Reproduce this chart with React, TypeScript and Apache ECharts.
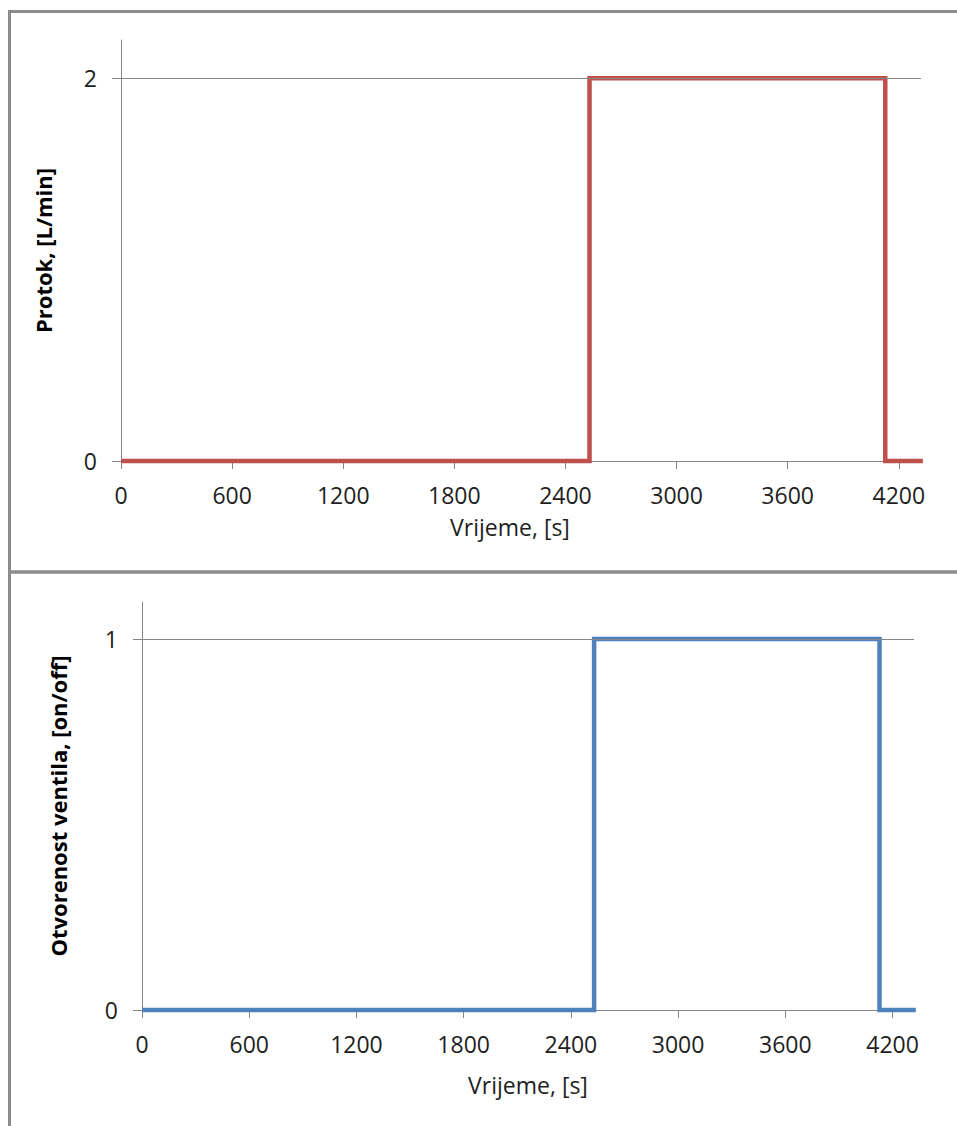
import React, { useEffect, useRef } from "react";
import * as echarts from "echarts";

// Data
const timeS = [0, 2530, 2530, 4127, 4127, 4330];
const protokLmin = [0, 0, 2, 2, 0, 0];
const ventilOnOff = [0, 0, 1, 1, 0, 0];
const xTicks = [0, 600, 1200, 1800, 2400, 3000, 3600, 4200];
const protokTicks = [0, 2];
const ventilTicks = [0, 1];

const FONT = "'Open Sans', 'DejaVu Sans', sans-serif";
const AXIS_GRAY = "#868686";
const TEXT = "#1e1e1e";

export default function App() {
  const ref = useRef<HTMLDivElement>(null);

  useEffect(() => {
    if (!ref.current) return;
    const chart = echarts.init(ref.current, undefined, { renderer: "svg" });

    const mkX = (gridIndex: number, padRight: number, nameGap: number) => ({
      type: "value",
      gridIndex,
      min: 0,
      max: 4320,
      name: "Vrijeme, [s]",
      nameLocation: "middle",
      nameGap,
      nameTextStyle: {
        fontFamily: FONT,
        fontSize: 23,
        color: TEXT,
        padding: [0, padRight, 0, 0],
      },
      axisLine: { show: true, lineStyle: { color: AXIS_GRAY, width: 1 } },
      axisTick: {
        show: true,
        length: 8,
        customValues: xTicks,
        lineStyle: { color: AXIS_GRAY, width: 1 },
      },
      axisLabel: {
        customValues: xTicks,
        formatter: (v: number) => String(v),
        fontFamily: FONT,
        fontSize: 23,
        color: TEXT,
        margin: 22,
      },
      splitLine: { show: false },
    });

    const mkY = (
      gridIndex: number,
      max: number,
      ticks: number[],
      name: string,
      nameGap: number
    ) => ({
      type: "value",
      gridIndex,
      min: 0,
      max,
      name,
      nameLocation: "middle",
      nameGap,
      nameTextStyle: {
        fontFamily: FONT,
        fontSize: 22,
        fontWeight: "bold",
        color: "#000",
      },
      axisLine: { show: true, lineStyle: { color: AXIS_GRAY, width: 1 } },
      axisTick: {
        show: true,
        length: 9,
        customValues: ticks,
        lineStyle: { color: AXIS_GRAY, width: 1 },
      },
      axisLabel: {
        customValues: ticks,
        formatter: (v: number) => String(v),
        fontFamily: FONT,
        fontSize: 23,
        color: TEXT,
        margin: 24,
      },
      splitLine: { show: false },
    });

    const gridLine = (xAxisIndex: number, yAxisIndex: number, y: number) => ({
      type: "line",
      xAxisIndex,
      yAxisIndex,
      data: [],
      z: 1,
      silent: true,
      markLine: {
        silent: true,
        symbol: ["none", "none"],
        label: { show: false },
        lineStyle: { color: AXIS_GRAY, width: 1, type: "solid" },
        data: [{ yAxis: y }],
      },
    });

    const option = {
      animation: false,
      backgroundColor: "#ffffff",
      grid: [
        { left: 121, right: 36, top: 40, bottom: 1126 - 461 },
        { left: 142, right: 43, top: 602, bottom: 1126 - 1010 },
      ],
      xAxis: [mkX(0, 22, 54), mkX(1, 0, 63)],
      yAxis: [
        mkY(0, 2.2, protokTicks, "Protok, [L/min]", 67),
        mkY(1, 1.1, ventilTicks, "Otvorenost ventila, [on/off]", 73),
      ],
      series: [
        gridLine(0, 0, 2),
        gridLine(1, 1, 1),
        {
          type: "line",
          name: "Protok",
          xAxisIndex: 0,
          yAxisIndex: 0,
          data: timeS.map((t, i) => [t, protokLmin[i]]),
          showSymbol: false,
          clip: false,
          z: 3,
          lineStyle: { color: "#c0504d", width: 4.5, cap: "butt", join: "miter" },
        },
        {
          type: "line",
          name: "Ventil",
          xAxisIndex: 1,
          yAxisIndex: 1,
          data: timeS.map((t, i) => [t, ventilOnOff[i]]),
          showSymbol: false,
          clip: false,
          z: 3,
          lineStyle: { color: "#4f81bd", width: 4.5, cap: "butt", join: "miter" },
        },
      ],
      graphic: [
        {
          type: "rect",
          silent: true,
          z: 100,
          shape: { x: 9.5, y: 11.5, width: 1000, height: 560.5 },
          style: { fill: "none", stroke: "#8c8c8c", lineWidth: 3 },
        },
        {
          type: "rect",
          silent: true,
          z: 100,
          shape: { x: 9.5, y: 572, width: 1000, height: 600 },
          style: { fill: "none", stroke: "#8c8c8c", lineWidth: 3 },
        },
      ],
    };

    chart.setOption(option as any);
    return () => chart.dispose();
  }, []);

  return (
    <div
      ref={ref}
      style={{
        position: "absolute",
        left: 0,
        top: 0,
        width: 957,
        height: 1126,
        background: "#fff",
      }}
    />
  );
}
